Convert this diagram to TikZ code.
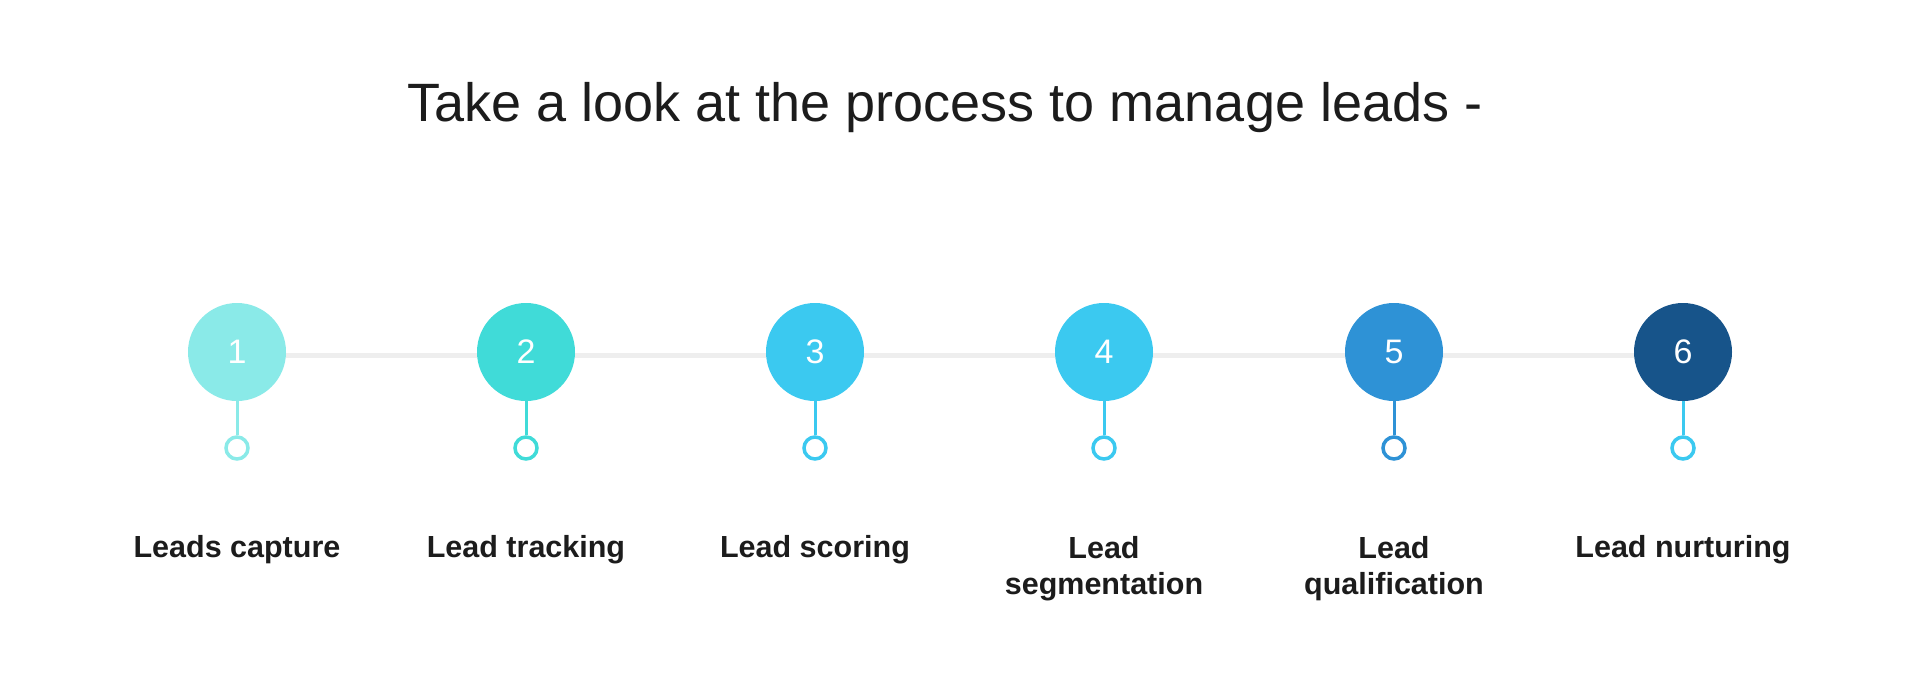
\documentclass[tikz,border=0pt]{standalone}
\usepackage{fontspec}
\setmainfont{Liberation Sans}
\definecolor{cA}{HTML}{8AEAE8}
\definecolor{cB}{HTML}{40DBD8}
\definecolor{cC}{HTML}{3BC9F0}
\definecolor{cD}{HTML}{3BC9F0}
\definecolor{cE}{HTML}{2E92D6}
\definecolor{cF}{HTML}{17548A}
\definecolor{txt}{HTML}{1C1C1C}
\definecolor{track}{HTML}{EEEEEE}
\tikzset{
  bigc/.style={circle, fill=#1, minimum size=98pt, inner sep=0pt, text=white, font=\fontsize{34}{34}\selectfont},
  ring/.style={circle, draw=#1, fill=white, line width=3.5pt, minimum size=22pt, inner sep=0pt},
  stem/.style={draw=#1, line width=3pt},
  lbl/.style={text=txt, font=\bfseries\fontsize{30.5}{36}\selectfont, align=center, anchor=base, inner sep=0pt},
  trk/.style={draw=track, line width=5pt},
}
\begin{document}
\begin{tikzpicture}[x=1pt,y=-1pt]
\useasboundingbox[fill=white] (0,0) rectangle (1920,678);
\node[text=txt, font=\fontsize{54}{54}\selectfont, anchor=base, inner sep=0pt] (title) at (945,121) {Take a look at the process to manage leads -};
% circles
\node[bigc=cA] (c1) at (237,352) {1};
\node[bigc=cB] (c2) at (526,352) {2};
\node[bigc=cC] (c3) at (815,352) {3};
\node[bigc=cD] (c4) at (1104,352) {4};
\node[bigc=cE] (c5) at (1394,352) {5};
\node[bigc=cF] (c6) at (1683,352) {6};
% rings
\node[ring=cA] (r1) at (237,448) {};
\node[ring=cB] (r2) at (526,448) {};
\node[ring=cC] (r3) at (815,448) {};
\node[ring=cD] (r4) at (1104,448) {};
\node[ring=cE] (r5) at (1394,448) {};
\node[ring=cD] (r6) at (1683,448) {};
% stems
\draw[stem=cA] (c1.south) -- (r1.north);
\draw[stem=cB] (c2.south) -- (r2.north);
\draw[stem=cC] (c3.south) -- (r3.north);
\draw[stem=cD] (c4.south) -- (r4.north);
\draw[stem=cE] (c5.south) -- (r5.north);
\draw[stem=cD] (c6.south) -- (r6.north);
% track segments between circles
\draw[trk] ([yshift=-3pt]c1.east) -- ([yshift=-3pt]c2.west);
\draw[trk] ([yshift=-3pt]c2.east) -- ([yshift=-3pt]c3.west);
\draw[trk] ([yshift=-3pt]c3.east) -- ([yshift=-3pt]c4.west);
\draw[trk] ([yshift=-3pt]c4.east) -- ([yshift=-3pt]c5.west);
\draw[trk] ([yshift=-3pt]c5.east) -- ([yshift=-3pt]c6.west);
% labels
\node[lbl] (l1) at (237,557) {Leads capture};
\node[lbl] (l2) at (526,557) {Lead tracking};
\node[lbl] (l3) at (815,557) {Lead scoring};
\node[lbl] (l4) at (1104,594) {Lead\\segmentation};
\node[lbl] (l5) at (1394,594) {Lead\\qualification};
\node[lbl] (l6) at (1683,557) {Lead nurturing};
\end{tikzpicture}
\end{document}
